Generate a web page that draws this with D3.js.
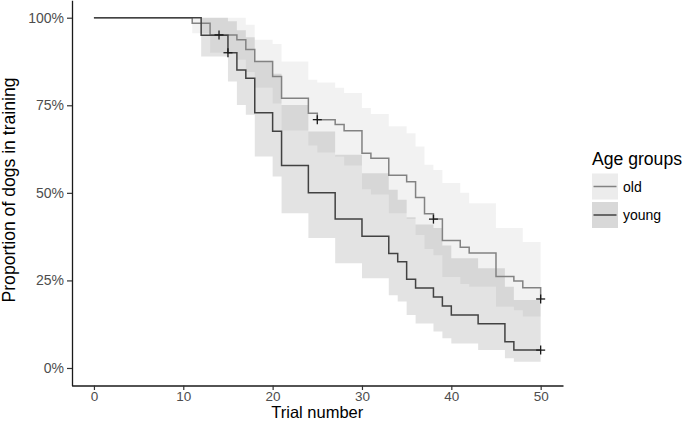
<!DOCTYPE html>
<html>
<head>
<meta charset="utf-8">
<script src="https://cdnjs.cloudflare.com/ajax/libs/d3/7.8.5/d3.min.js"></script>
<style>
body { margin: 0; background: #fff; }
text { font-family: "Liberation Sans", Arial, sans-serif; }
</style>
</head>
<body>
<div id="chart"></div>
<script>
// Kaplan-Meier curves: dogs still in training by trial number

// old dogs
const oldTime  = [0, 11, 13, 16, 17, 18, 20, 21, 24, 25, 27, 28, 30, 31, 33, 35, 36, 37, 38, 39, 41, 42, 45, 47, 48, 50];
const oldSurv  = [1, 0.984, 0.951, 0.937, 0.909, 0.875, 0.832, 0.77, 0.727, 0.709, 0.695, 0.677, 0.613, 0.599, 0.55, 0.532, 0.487, 0.44, 0.425, 0.364, 0.345, 0.328, 0.261, 0.248, 0.229, 0.197];
const oldLower = [1, 0.956, 0.90, 0.88, 0.845, 0.80, 0.755, 0.678, 0.635, 0.615, 0.603, 0.578, 0.51, 0.495, 0.442, 0.425, 0.38, 0.34, 0.322, 0.26, 0.24, 0.232, 0.175, 0.165, 0.147, 0.147];
const oldUpper = [1, 1, 1, 1, 0.98, 0.937, 0.925, 0.875, 0.823, 0.815, 0.80, 0.785, 0.742, 0.725, 0.69, 0.67, 0.632, 0.58, 0.565, 0.528, 0.50, 0.47, 0.40, 0.40, 0.36, 0.36];
const oldCensor = [14, 25, 38, 50];

// young dogs
const youngTime  = [0, 12, 15, 16, 17, 18, 20, 21, 24, 27, 30, 33, 34, 35, 36, 38, 39, 40, 43, 46, 47, 50];
const youngSurv  = [1, 0.95, 0.90, 0.851, 0.827, 0.729, 0.676, 0.578, 0.50, 0.425, 0.376, 0.327, 0.303, 0.253, 0.228, 0.203, 0.177, 0.151, 0.126, 0.075, 0.051, 0.051];
const youngLower = [1, 0.889, 0.818, 0.751, 0.723, 0.604, 0.547, 0.442, 0.371, 0.299, 0.256, 0.208, 0.19, 0.151, 0.127, 0.104, 0.085, 0.07, 0.051, 0.028, 0.018, 0.018];
const youngUpper = [1, 1, 0.99, 0.964, 0.944, 0.877, 0.84, 0.751, 0.675, 0.609, 0.556, 0.509, 0.48, 0.43, 0.41, 0.40, 0.35, 0.313, 0.285, 0.232, 0.194, 0.194];
const youngCensor = [15, 50];

const xTicks = [0, 10, 20, 30, 40, 50];
const yTicks = [0, 0.25, 0.5, 0.75, 1];
const groupNames = ['old', 'young'];

const width = 685, height = 422;

// Build per-group records
function makeGroup(name, time, surv, lower, upper, censor, line, band, key) {
    return {
        name,
        points: time.map((t, i) => ({ t, s: surv[i], lo: lower[i], up: upper[i] })),
        censor,
        line, band, key
    };
}

const groups = [
    makeGroup('old', oldTime, oldSurv, oldLower, oldUpper, oldCensor, '#828282', 'rgba(0,0,0,0.05)', '#ececec'),
    makeGroup('young', youngTime, youngSurv, youngLower, youngUpper, youngCensor, '#424242', 'rgba(0,0,0,0.11)', '#d8d8d8')
];

// Survival value at time t (step function)
function survAt(points, t) {
    let s = points[0].s;
    points.forEach(p => { if (p.t <= t) s = p.s; });
    return s;
}

const svg = d3.select('#chart').append('svg')
    .attr('width', width)
    .attr('height', height)
    .style('background', '#fff');

const x = d3.scaleLinear().domain([-2.5, 52.5]).range([71.6, 563]);
const y = d3.scaleLinear().domain([-0.05, 1.05]).range([385.5, 0.2]);

const area = d3.area()
    .curve(d3.curveStepAfter)
    .x(d => x(d.t))
    .y0(d => y(d.lo))
    .y1(d => y(d.up));

const line = d3.line()
    .curve(d3.curveStepAfter)
    .x(d => x(d.t))
    .y(d => y(d.s));

// Confidence bands
svg.append('g').selectAll('path')
    .data(groups)
    .enter()
    .append('path')
    .attr('d', d => area(d.points))
    .attr('fill', d => d.band)
    .attr('stroke', 'none');

// Curves
svg.append('g').selectAll('path')
    .data(groups)
    .enter()
    .append('path')
    .attr('d', d => line(d.points))
    .attr('fill', 'none')
    .attr('stroke', d => d.line)
    .attr('stroke-width', 1.5);

// Censor marks
const marks = [];
groups.forEach(g => g.censor.forEach(t => marks.push({ t, s: survAt(g.points, t) })));
const plus = svg.append('g').selectAll('g')
    .data(marks)
    .enter()
    .append('g')
    .attr('transform', d => `translate(${x(d.t)},${y(d.s)})`)
    .attr('stroke', '#1a1a1a')
    .attr('stroke-width', 1.3);
plus.append('line').attr('x1', -4.5).attr('x2', 4.5);
plus.append('line').attr('y1', -4.5).attr('y2', 4.5);

// Axes
function styleAxis(g, size) {
    g.select('.domain').attr('stroke', '#1a1a1a').attr('stroke-width', 1.3);
    g.selectAll('.tick line').attr('stroke', '#333').attr('stroke-width', 1.2);
    g.selectAll('.tick text')
        .attr('fill', '#4d4d4d')
        .style('font-size', size)
        .style('font-family', '"Liberation Sans", Arial, sans-serif');
}

svg.append('g')
    .attr('transform', 'translate(0,385.5)')
    .call(d3.axisBottom(x).tickValues(xTicks).tickSize(4.5).tickSizeOuter(0).tickPadding(1))
    .call(styleAxis, '13.5px');

svg.append('g')
    .attr('transform', 'translate(72,0)')
    .call(d3.axisLeft(y).tickValues(yTicks).tickFormat(d3.format('.0%')).tickSize(5).tickSizeOuter(0).tickPadding(3))
    .call(styleAxis, '14px');

// Axis titles
svg.append('text')
    .attr('x', x(25))
    .attr('y', 418.3)
    .attr('text-anchor', 'middle')
    .style('font-size', '16.5px')
    .text('Trial number');

svg.append('text')
    .attr('transform', 'translate(15,190) rotate(-90)')
    .attr('text-anchor', 'middle')
    .style('font-size', '17.6px')
    .text('Proportion of dogs in training');

// Legend
const legend = svg.append('g').attr('transform', 'translate(592,0)');
legend.append('text')
    .attr('x', 0)
    .attr('y', 165)
    .style('font-size', '17.6px')
    .text('Age groups');

const item = legend.selectAll('g.item')
    .data(groups)
    .enter()
    .append('g')
    .attr('class', 'item')
    .attr('transform', (d, i) => `translate(0,${173.5 + i * 28.5})`);
item.append('rect')
    .attr('width', 26)
    .attr('height', 26)
    .attr('fill', d => d.key);
item.append('line')
    .attr('x1', 1.5).attr('x2', 24.5)
    .attr('y1', 13).attr('y2', 13)
    .attr('stroke', d => d.line)
    .attr('stroke-width', 1.5);
item.append('text')
    .attr('x', 31)
    .attr('y', 18)
    .style('font-size', '14px')
    .text((d, i) => groupNames[i]);
</script>
</body>
</html>
